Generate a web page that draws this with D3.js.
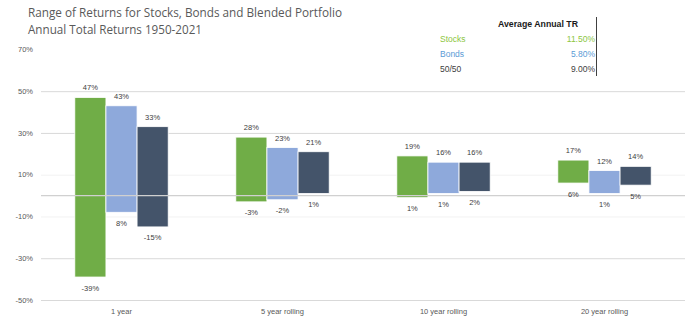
<!DOCTYPE html>
<html>
<head>
<meta charset="utf-8">
<script src="https://cdn.jsdelivr.net/npm/d3@7"></script>
<style>
  html, body { margin: 0; padding: 0; background: #fff; }
  svg { display: block; font-family: "Liberation Sans", "DejaVu Sans", sans-serif; }
</style>
</head>
<body>
<svg id="chart" width="691" height="320"></svg>
<script>
// ---- data ----
const categories = ["1 year", "5 year rolling", "10 year rolling", "20 year rolling"];
const seriesNames = ["Stocks", "Bonds", "50/50"];
const stocksHigh = [47, 28, 19, 17];
const stocksLow  = [-39, -3, -1, 6];
const bondsHigh  = [43, 23, 16, 12];
const bondsLow   = [-8, -2, 1, 1];
const blendHigh  = [33, 21, 16, 14];
const blendLow   = [-15, 1, 2, 5];
const stocksHighLabels = ["47%", "28%", "19%", "17%"];
const stocksLowLabels  = ["-39%", "-3%", "1%", "6%"];
const bondsHighLabels  = ["43%", "23%", "16%", "12%"];
const bondsLowLabels   = ["8%", "-2%", "1%", "1%"];
const blendHighLabels  = ["33%", "21%", "16%", "14%"];
const blendLowLabels   = ["-15%", "1%", "2%", "5%"];
const yTicks = [70, 50, 30, 10, -10, -30, -50];
const avgReturns = ["11.50%", "5.80%", "9.00%"];

const colors = ["#70AD47", "#8EA9DB", "#44546A"];
const legendTextColors = ["#8DC63F", "#5B9BD5", "#404040"];

const svg = d3.select("#chart");

// ---- scales ----
const y = d3.scaleLinear().domain([-50, 70]).range([300, 49.4]);
const x0 = d3.scaleBand().domain(categories).range([41, 685]).paddingInner(0.42).paddingOuter(0.21);
const x1 = d3.scaleBand().domain(seriesNames).range([0, x0.bandwidth()]);

// ---- gridlines ----
const faint = new Set([10, -10]);
svg.append("g").selectAll("line").data(yTicks.filter(d => d !== 70)).join("line")
  .attr("x1", 41).attr("x2", 685)
  .attr("y1", d => y(d) + 0.5).attr("y2", d => y(d) + 0.5)
  .attr("stroke", d => faint.has(d) ? "#f2f2f2" : "#d9d9d9")
  .attr("stroke-width", 1);

// ---- y tick labels ----
svg.append("g").selectAll("text").data(yTicks).join("text")
  .attr("x", 33).attr("y", d => y(d))
  .attr("dy", "0.35em")
  .attr("text-anchor", "end")
  .attr("font-size", 7.5)
  .attr("fill", "#595959")
  .text(d => d + "%");

// ---- bars ----
const series = [
  { name: "Stocks", high: stocksHigh, low: stocksLow, hl: stocksHighLabels, ll: stocksLowLabels, color: colors[0] },
  { name: "Bonds",  high: bondsHigh,  low: bondsLow,  hl: bondsHighLabels,  ll: bondsLowLabels,  color: colors[1] },
  { name: "50/50",  high: blendHigh,  low: blendLow,  hl: blendHighLabels,  ll: blendLowLabels,  color: colors[2] }
];

const rows = [];
series.forEach(s => categories.forEach((c, i) => rows.push({
  cat: c, name: s.name, high: s.high[i], low: s.low[i], hl: s.hl[i], ll: s.ll[i], color: s.color
})));

const barG = svg.append("g");
barG.selectAll("rect").data(rows).join("rect")
  .attr("x", d => x0(d.cat) + x1(d.name))
  .attr("width", x1.bandwidth())
  .attr("y", d => y(d.high))
  .attr("height", d => y(d.low) - y(d.high))
  .attr("fill", d => d.color)
  .attr("stroke", "#ffffff")
  .attr("stroke-width", 0.8);

// zero line over bars
svg.append("line")
  .attr("x1", 41).attr("x2", 685)
  .attr("y1", y(0)).attr("y2", y(0))
  .attr("stroke", "#d0d0d0").attr("stroke-width", 1.2);

// ---- value labels ----
const lblG = svg.append("g").attr("font-size", 7.5).attr("fill", "#404040").attr("text-anchor", "middle");
lblG.selectAll("text.hi").data(rows).join("text").attr("class", "hi")
  .attr("x", d => x0(d.cat) + x1(d.name) + x1.bandwidth() / 2)
  .attr("y", d => y(d.high) - 7)
  .text(d => d.hl);
lblG.selectAll("text.lo").data(rows).join("text").attr("class", "lo")
  .attr("x", d => x0(d.cat) + x1(d.name) + x1.bandwidth() / 2)
  .attr("y", d => y(d.low) + 13.5)
  .text(d => d.ll);

// ---- category labels ----
svg.append("g").selectAll("text").data(categories).join("text")
  .attr("x", d => x0(d) + x0.bandwidth() / 2)
  .attr("y", 314)
  .attr("text-anchor", "middle")
  .attr("font-size", 7.5)
  .attr("fill", "#595959")
  .text(d => d);

// ---- title ----
svg.append("text").attr("x", 28).attr("y", 17)
  .attr("font-size", 12.5).attr("fill", "#595959")
  .attr("font-family", "'Open Sans', 'Liberation Sans', sans-serif")
  .attr("textLength", 314).attr("lengthAdjust", "spacingAndGlyphs")
  .text("Range of Returns for Stocks, Bonds and Blended Portfolio");
svg.append("text").attr("x", 28).attr("y", 34)
  .attr("font-size", 12.5).attr("fill", "#595959")
  .attr("font-family", "'Open Sans', 'Liberation Sans', sans-serif")
  .attr("textLength", 174).attr("lengthAdjust", "spacingAndGlyphs")
  .text("Annual Total Returns 1950-2021");

// ---- average return table ----
const tbl = svg.append("g").attr("font-size", 8.5);
tbl.append("text").attr("x", 498).attr("y", 27)
  .attr("fill", "#1a1a1a").attr("font-weight", "bold")
  .attr("textLength", 80).attr("lengthAdjust", "spacingAndGlyphs")
  .text("Average Annual TR");
tbl.append("line").attr("x1", 596.5).attr("x2", 596.5).attr("y1", 17).attr("y2", 76)
  .attr("stroke", "#404040").attr("stroke-width", 1);
tbl.selectAll("text.nm").data(seriesNames).join("text").attr("class", "nm")
  .attr("x", 440).attr("y", (d, i) => 42 + i * 14.8)
  .attr("fill", (d, i) => legendTextColors[i])
  .text(d => d);
tbl.selectAll("text.av").data(avgReturns).join("text").attr("class", "av")
  .attr("x", 595).attr("y", (d, i) => 42 + i * 14.8)
  .attr("text-anchor", "end")
  .attr("fill", (d, i) => legendTextColors[i])
  .text(d => d);
</script>
</body>
</html>
